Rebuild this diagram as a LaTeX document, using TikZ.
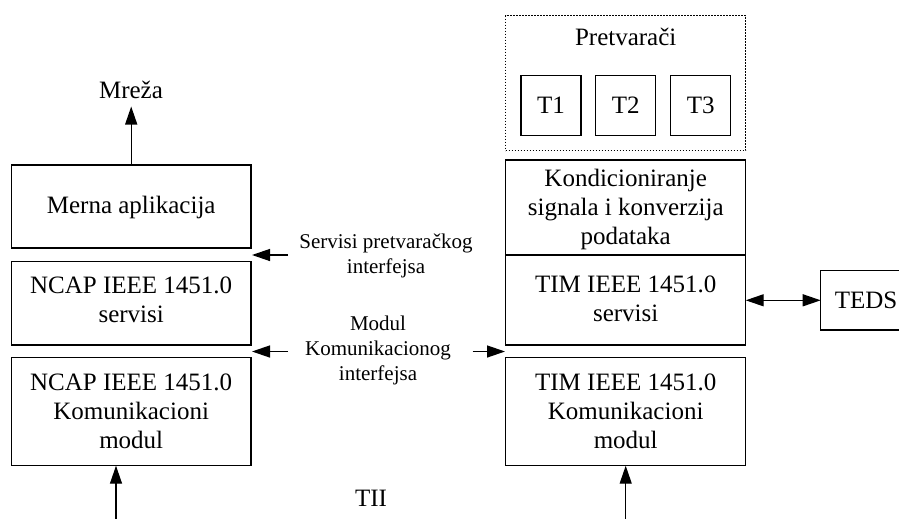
\documentclass[tikz,border=0pt]{standalone}
\usepackage{fontspec}
\setmainfont{Liberation Serif}
\usetikzlibrary{arrows.meta}
\tikzset{
  box/.style={draw, line width=1.3pt, inner sep=0pt, outer sep=0pt},
  dotbox/.style={draw, line width=1.1pt, dash pattern=on 1.4pt off 1.6pt, inner sep=0pt, outer sep=0pt},
  btxt/.style={inner sep=0pt, align=center, font=\fontsize{25}{29}\selectfont},
  ltxt/.style={inner sep=0pt, align=center, font=\fontsize{21}{25}\selectfont},
  arr/.style={line width=1.3pt, -{Triangle[length=18pt,width=12pt]}},
  darr/.style={line width=1.3pt, {Triangle[length=18pt,width=12pt]}-{Triangle[length=18pt,width=12pt]}},
}
\begin{document}
\begin{tikzpicture}[x=1pt,y=-1pt]
\useasboundingbox (0,0) rectangle (899,519);
\clip (0,0) rectangle (899,519);
% left column
\node[box, minimum width=239.5pt, minimum height=83pt] (merna) at (131.2,206.5) {};
\node[btxt] (mernat) at (131.2,207) {Merna aplikacija};
\node[box, minimum width=239.5pt, minimum height=83.3pt] (ncaps) at (131.2,303.3) {};
\node[btxt] (ncapst) at (131.2,300) {NCAP IEEE 1451.0\\servisi};
\node[box, minimum width=239.5pt, minimum height=108.4pt] (ncapk) at (131.2,411.5) {};
\node[btxt] (ncapkt) at (131.2,411) {NCAP IEEE 1451.0\\Komunikacioni\\modul};
\node[btxt] (mreza) at (131,90) {Mreža};
% right column
\node[dotbox, minimum width=240pt, minimum height=135pt] (pretv) at (625.7,83.2) {};
\node[btxt] (pretvt) at (625.7,37) {Pretvarači};
\node[box, minimum width=60pt, minimum height=60pt] (t1) at (550.9,105.7) {};
\node[btxt] at (t1) {T1};
\node[box, minimum width=60pt, minimum height=60pt] (t2) at (625.7,105.7) {};
\node[btxt] at (t2) {T2};
\node[box, minimum width=60pt, minimum height=60pt] (t3) at (700.7,105.7) {};
\node[btxt] at (t3) {T3};
\node[box, minimum width=240pt, minimum height=95pt] (kond) at (625.7,207.5) {};
\node[btxt] (kondt) at (625.7,209.5) {Kondicioniranje\\signala i konverzija\\podataka};
\node[box, minimum width=240pt, minimum height=90pt] (tims) at (625.7,300) {};
\node[btxt] (timst) at (625.7,298.5) {TIM IEEE 1451.0\\servisi};
\node[box, minimum width=240pt, minimum height=108.4pt] (timk) at (625.7,411.5) {};
\node[btxt] (timkt) at (625.7,411) {TIM IEEE 1451.0\\Komunikacioni\\modul};
\node[box, minimum width=90pt, minimum height=59.3pt] (teds) at (865.7,300.3) {};
\node[btxt] (tedst) at (866,300.3) {TEDS};
% middle labels
\node[ltxt] (servlab) at (386,256) {Servisi pretvaračkog\\interfejsa};
\node[ltxt] (modlab) at (378,350) {Modul\\Komunikacionog\\interfejsa};
\node[btxt] (tii) at (371,498) {TII};
% connectors
\coordinate (mtop) at (131.2,106.5);
\draw[arr] (merna.north) -- (mtop);
\coordinate (s1) at (288,255);
\coordinate (s2) at (252,255);
\draw[arr] (s1) -- (s2);
\coordinate (m1) at (288,351.5);
\coordinate (m2) at (252,351.5);
\draw[arr] (m1) -- (m2);
\coordinate (m3) at (472.7,351.5);
\coordinate (m4) at (505,351.5);
\draw[arr] (m3) -- (m4);
\draw[darr] (tims.east |- teds.west) -- (teds.west);
\coordinate (bl) at (116,525);
\draw[arr] (bl) -- (bl |- ncapk.south);
\coordinate (br) at (625.7,525);
\draw[arr] (br) -- (timk.south);
\end{tikzpicture}
\end{document}
